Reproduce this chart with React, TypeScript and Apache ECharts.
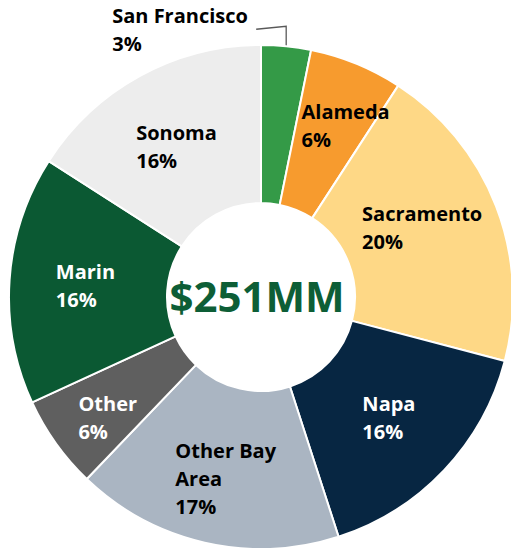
import React, { useEffect, useRef } from "react";
import * as echarts from "echarts";

const categories = ["San Francisco", "Alameda", "Sacramento", "Napa", "Other Bay Area", "Other", "Marin", "Sonoma"];
const valuesMM = [8, 15, 50, 40, 43, 15, 40, 40];

const sliceColors: Record<string, string> = {
  "San Francisco": "#349A47",
  Alameda: "#F79B2E",
  Sacramento: "#FED886",
  Napa: "#072642",
  "Other Bay Area": "#AAB5C2",
  Other: "#5F5F5F",
  Marin: "#0B5933",
  Sonoma: "#EDEDED",
};
const labelColors: Record<string, string> = {
  Napa: "#FFFFFF",
  Other: "#FFFFFF",
  Marin: "#FFFFFF",
};
const labelNames: Record<string, string> = { "Other Bay Area": "Other Bay\nArea" };
const labelShift: Record<string, [number, number]> = {
  Alameda: [18, -9],
  Sacramento: [-3, -6],
  Napa: [0, 0],
  "Other Bay Area": [4, 10],
  Other: [-10, 18],
  Marin: [0, 1],
  Sonoma: [0, 4],
};

export default function App() {
  const ref = useRef<HTMLDivElement>(null);
  useEffect(() => {
    document.body.style.margin = "0";
    const chart = echarts.init(ref.current!, null, { renderer: "svg" });
    const total = valuesMM.reduce((a, b) => a + b, 0);
    const cx = 261, cy = 297, r0 = 94, r1 = 252;
    const data = categories.map((name, i) => ({
      name,
      value: valuesMM[i],
      itemStyle: { color: sliceColors[name] },
      label:
        i === 0
          ? { position: "outside", color: "#000" }
          : { position: "inside", color: labelColors[name] || "#000" },
      labelLine: i === 0 ? { show: true, length: 20, length2: 30 } : { show: false },
    }));
    chart.setOption({
      animation: false,
      graphic: [
        {
          type: "text",
          x: 257,
          y: 295,
          style: {
            text: `$${total}MM`,
            font: "bold 42px 'Open Sans'",
            fill: "#0D5E36",
            align: "center",
            verticalAlign: "middle",
          },
          z: 100,
        },
      ],
      series: [
        {
          type: "pie",
          center: [cx, cy],
          radius: [r0, r1],
          startAngle: 90,
          clockwise: true,
          percentPrecision: 0,
          avoidLabelOverlap: false,
          itemStyle: { borderColor: "#FFFFFF", borderWidth: 2 },
          label: {
            show: true,
            fontFamily: "Open Sans",
            fontWeight: "bold",
            fontSize: 20,
            lineHeight: 28,
            align: "center",
            formatter: (p: any) => `${labelNames[p.name] || p.name}\n${p.percent}%`,
          },
          labelLine: { lineStyle: { color: "#595959", width: 1.3 } },
          labelLayout: (params: any) => {
            const name = categories[params.dataIndex];
            const rect = params.labelRect;
            if (params.dataIndex === 0) {
              let p = params.labelLinePoints && params.labelLinePoints[0];
              if (!p) {
                const a = ((valuesMM[0] / 2 / total) * 360 * Math.PI) / 180;
                p = [cx + r1 * Math.sin(a), cy - r1 * Math.cos(a)];
              }
              return {
                x: p[0] - 174,
                y: p[1] - 17,
                align: "left",
                verticalAlign: "middle",
                labelLinePoints: [
                  [p[0], p[1]],
                  [p[0], p[1] - 20],
                  [p[0] - 30, p[1] - 17],
                ],
              };
            }
            const s = labelShift[name] || [0, 0];
            return {
              x: rect.x + s[0],
              y: rect.y + rect.height / 2 + s[1],
              align: "left",
              verticalAlign: "middle",
            };
          },
          data,
        },
      ],
    });
    return () => chart.dispose();
  }, []);
  return <div ref={ref} style={{ position: "absolute", left: 0, top: 0, width: 511, height: 548 }} />;
}
